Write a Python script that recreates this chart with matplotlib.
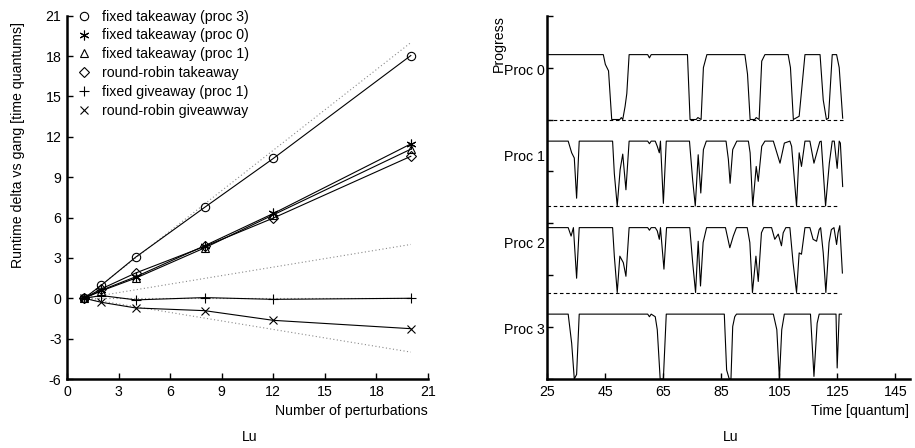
import matplotlib
matplotlib.use("Agg")
import matplotlib.pyplot as plt
from matplotlib.lines import Line2D
import matplotlib.transforms as mtransforms

plt.rcParams['font.family'] = ['Liberation Sans', 'DejaVu Sans']
plt.rcParams['font.size'] = 10.2
plt.rcParams['axes.unicode_minus'] = False
FS = 10.2

# ---------------- left chart data ----------------
perturbations = [1, 2, 4, 8, 12, 20]
fixed_take_p3 = [0, 0.97, 3.06, 6.75, 10.39, 18.04]
fixed_take_p0 = [0, 0.60, 1.60, 3.90, 6.30, 11.47]
fixed_take_p1 = [0, 0.55, 1.50, 3.74, 6.20, 11.08]
rr_take = [0, 0.70, 1.88, 3.85, 5.96, 10.55]
fixed_give_p1 = [0, 0.20, -0.12, 0.05, -0.08, 0.0]
rr_give = [0, -0.30, -0.72, -0.92, -1.64, -2.26]

ref_x = [1, 20]
ref_upper = [0, 19]
ref_mid = [0, 4]
ref_zero = [0, 0]
ref_lower = [0, -4]

series_labels = ["fixed takeaway (proc 3)", "fixed takeaway (proc 0)",
                 "fixed takeaway (proc 1)", "round-robin takeaway",
                 "fixed giveaway (proc 1)", "round-robin giveawway"]

left_xticks = list(range(0, 22, 3))
left_yticks = list(range(-6, 22, 3))

# ---------------- right chart data ----------------
proc_names = ["Proc 0", "Proc 1", "Proc 2", "Proc 3"]

proc0_t = [25, 44.3, 45, 46.1, 47.2, 50, 50.5, 51, 51.8, 52.4, 53.2, 59.6, 60.2, 60.8,
           73.3, 74.2, 76.3, 76.9, 78, 78.8, 80, 93.1, 94, 94.9, 96.5, 97, 98, 98.9, 100,
           108, 108.8, 109.8, 111.8, 113.8, 119, 120.1, 121.2, 121.9, 123.2, 124.7,
           125.6, 126.8]
proc0_v = [1, 1, 0.85, 0.75, 0, 0, 0.03, 0, 0.2, 0.4, 1, 1, 0.95, 1,
           1, 0, 0, 0.03, 0, 0.8, 1, 1, 0.7, 0, 0, 0.03, 0, 0.9, 1,
           1, 0.8, 0, 0.05, 1, 1, 0.3, 0, 0.02, 1, 1,
           0.8, 0.02]

proc1_t = [25, 32.2, 33.4, 34.3, 35.1, 36, 47.5, 48.1, 49.1, 50.1, 51, 52.1, 53.2,
           59.6, 60.2, 60.8, 62.2, 62.9, 63.6, 64, 65, 66, 74, 75.1, 76, 77, 77.9, 78.8,
           79.8, 86.6, 87.4, 88, 88.9, 90.3, 94.3, 94.9, 95.8, 97, 97.7, 98.9, 100,
           102.9, 105.2, 106.7, 108.6, 109.2, 110.9, 111.8, 112.6, 113.8, 115.5, 116.9,
           118.9, 119.4, 120.9, 122.2, 123.2, 123.9, 124.9, 125.6, 126, 126.8]
proc1_v = [1, 1, 0.82, 0.74, 0.12, 1, 1, 0.5, 0, 0.56, 0.8, 0.25, 1,
           1, 0.96, 1, 1, 0.92, 0.82, 1, 0.04, 1, 1, 0.4, 0, 0.79, 0.2, 0.87,
           1, 1, 0.72, 0.35, 0.87, 1, 1, 0.82, 0, 0.61, 0.38, 0.92, 1,
           1, 0.66, 0.97, 1, 0.92, 0, 0.82, 0.61, 1, 1, 0.66,
           0.99, 1, 0, 0.66, 1, 1, 0.58, 1, 0.97, 0.3]

proc2_t = [25, 32.2, 33.2, 34, 35.1, 36, 47.5, 48.1, 49.1, 50, 51.2, 52.1, 53.2,
           59.6, 60.2, 60.8, 62.2, 62.9, 63.6, 64, 65.2, 66.1, 74.1, 75.1, 76.1, 77,
           77.8, 78.7, 79.9, 86.4, 87.9, 89.1, 90.2, 93.9, 94.8, 95.7, 96.9, 97.7,
           98.8, 99.6, 102.3, 103.4, 104.6, 105.7, 106.3, 107.2, 108.6, 109.7, 110.9,
           111.8, 112.6, 113.8, 115.5, 116.6, 117.8, 118.7, 119.2, 120.1, 121, 122.1,
           122.9, 123.8, 124.7, 125.2, 125.8, 126.7]
proc2_v = [1, 1, 0.87, 1, 0.22, 1, 1, 0.56, 0, 0.56, 0.46, 0.25, 1,
           1, 0.96, 1, 1, 0.95, 0.82, 1, 0.36, 1, 1, 0.46, 0, 0.79,
           0.1, 0.77, 1, 1, 0.69, 0.87, 1, 1, 0.77, 0, 0.56, 0.17,
           0.92, 1, 1, 0.82, 0.9, 0.72, 0.92, 1, 1, 0.46, 0,
           0.61, 0.59, 1, 1, 0.82, 0.79, 0.97, 1, 0.61, 0, 0.77,
           0.97, 1, 0.74, 0.92, 1.03, 0.3]

proc3_t = [25, 32.2, 33.4, 34.3, 35.1, 36, 59.6, 60.2, 60.8, 62.2, 62.9, 63.9, 65, 66,
           86, 86.8, 87.7, 88.3, 88.9, 89.6, 90.2, 102.9, 104.1, 105, 105.8, 106.7,
           115.7, 116.9, 118, 118.7, 124.5, 124.9, 125.6, 126.4]
proc3_v = [1, 1, 0.55, 0, 0.07, 1, 1, 0.96, 1, 0.96, 0.76, 0, 0, 1,
           1, 0.14, 0, 0, 0.81, 0.96, 1, 1, 0.76, 0, 0.76, 1,
           1, 0.04, 0.86, 1, 1, 0.17, 1, 1]

baseline_end = [127, 125.7, 125.7, None]

right_xticks = list(range(25, 146, 20))

# ---------------- figure ----------------
W, H = 915, 448
fig = plt.figure(figsize=(W / 100, H / 100), dpi=100)
ax1 = fig.add_axes([67 / W, 69 / H, 361 / W, 363.3 / H])
ax2 = fig.add_axes([547.3 / W, 69 / H, 362.7 / W, 363.3 / H])

for ax in (ax1, ax2):
    for s in ("top", "right"):
        ax.spines[s].set_visible(False)
    for s in ("left", "bottom"):
        ax.spines[s].set_linewidth(1.8)
    ax.tick_params(direction="in", length=4, width=1, pad=4, labelsize=FS)

# left chart
lw = 0.8
dot_kw = dict(color="#8a8a8a", lw=0.8, dashes=(1, 2.2))
for yv in (ref_upper, ref_mid, ref_zero, ref_lower):
    ax1.plot(ref_x, yv, **dot_kw)

styles = [
    dict(marker="o", ms=6, mfc="none"),
    dict(marker=(6, 2, 0), ms=7),
    dict(marker="^", ms=6, mfc="none"),
    dict(marker="D", ms=4.8, mfc="none"),
    dict(marker="+", ms=7),
    dict(marker="x", ms=6),
]
all_series = [fixed_take_p3, fixed_take_p0, fixed_take_p1, rr_take, fixed_give_p1, rr_give]
handles = []
for vals, st, lab in zip(all_series, styles, series_labels):
    ax1.plot(perturbations, vals, color="black", lw=lw, mew=0.8, mec="black", **st)
    handles.append(Line2D([], [], ls="none", color="black", mew=0.8, mec="black", label=lab, **st))

ax1.set_xlim(0, 21)
ax1.set_ylim(-6, 21)
ax1.set_xticks(left_xticks)
ax1.set_yticks(left_yticks)
ax1.legend(handles=handles, loc="upper left", bbox_to_anchor=(0.028, 1.017),
           frameon=False, borderpad=0, borderaxespad=0, handlelength=1.0,
           handletextpad=0.77, labelspacing=0.35, fontsize=FS)

# right chart
proc_t = [proc0_t, proc1_t, proc2_t, proc3_t]
proc_v = [proc0_v, proc1_v, proc2_v, proc3_v]
band_h = 1.25
offsets = [5.0, 10 / 3, 5 / 3, 0.0]
for t, v, off, end in zip(proc_t, proc_v, offsets, baseline_end):
    ax2.plot(t, [off + band_h * x for x in v], color="black", lw=0.8)
    if end is not None:
        ax2.plot([25, end], [off, off], color="black", lw=0.8, dashes=(3.2, 2.4))

ax2.set_xlim(25, 150)
ax2.set_ylim(0, 7)
ax2.set_xticks(right_xticks)
ax2.set_yticks(range(0, 8))
ax2.set_yticklabels([])
trans = mtransforms.blended_transform_factory(ax2.transAxes, ax2.transData)
for name, off in zip(proc_names, offsets):
    ax2.text(-0.006, off + 0.94, name, transform=trans, ha="right", va="center", fontsize=FS)

# labels
fig.text(18 / W, 1 - 145 / H, "Runtime delta vs gang [time quantums]", rotation=90,
         ha="center", va="center", fontsize=FS)
fig.text(499 / W, 1 - 43.5 / H, "Progress", rotation=90, ha="center", va="center", fontsize=FS)
fig.text(428 / W, 1 - 411 / H, "Number of perturbations", ha="right", va="center", fontsize=FS)
fig.text(909 / W, 1 - 411 / H, "Time [quantum]", ha="right", va="center", fontsize=FS)
fig.text(249.7 / W, 1 - 437 / H, "Lu", ha="center", va="center", fontsize=FS)
fig.text(730.7 / W, 1 - 437 / H, "Lu", ha="center", va="center", fontsize=FS)

fig.savefig("out.png", dpi=100)
